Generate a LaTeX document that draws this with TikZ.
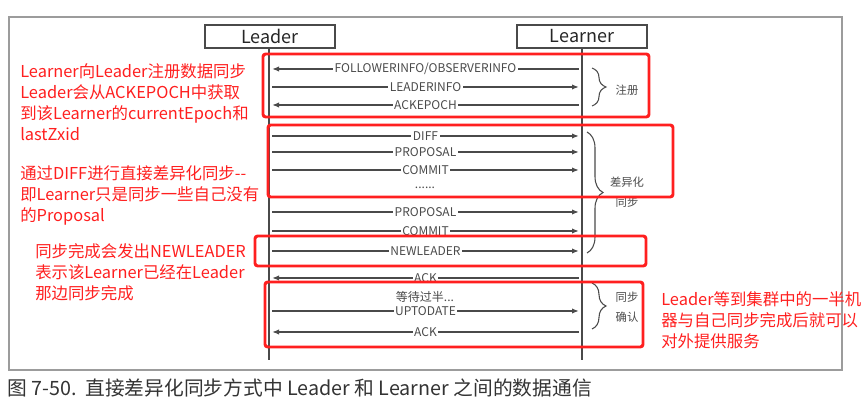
\documentclass[tikz,border=0pt]{standalone}
\usepackage{fontspec}
\setmainfont{Noto Sans CJK SC}
\usetikzlibrary{arrows.meta, positioning, decorations.pathreplacing}
\definecolor{lineGray}{HTML}{4A4A4A}
\definecolor{frameGray}{HTML}{9C9C9C}
\definecolor{noteRed}{HTML}{FF1F1F}

\begin{document}
\begin{tikzpicture}[x=0.75pt, y=-0.75pt, >={Latex[length=5pt,width=4pt]},
  actor/.style={draw=lineGray, line width=1.1pt, fill=white, minimum width=97.5pt, minimum height=17.25pt, inner sep=0pt, font=\fontsize{13.5}{13.5}\selectfont, text=black!85},
  lifeline/.style={draw=lineGray, line width=1pt},
  msg/.style={draw=lineGray, line width=0.8pt, shorten >=2.5pt, shorten <=2.5pt},
  msglabel/.style={fill=white, inner xsep=1.2pt, inner ysep=0.5pt, font=\fontsize{9}{9}\selectfont, text=lineGray},
  phasebrace/.style={draw=lineGray, line width=0.8pt, decorate, decoration={brace, amplitude=#1}},
  phaselabel/.style={align=center, inner sep=0pt, font=\fontsize{8.5}{15}\selectfont, text=lineGray},
  redbox/.style={draw=noteRed, line width=2.2pt, rounded corners=2pt},
  notetext/.style={anchor=north west, align=left, inner sep=0pt, text=noteRed, font=\fontsize{12.3}{15.75}\selectfont}]
\useasboundingbox (0,0) rectangle (865,416);
\draw[frameGray, line width=0.9pt] (9,17) rectangle (842,370);

% participants
\node[actor] (leader) at (270,36.5) {Leader};
\node[actor] (learner) at (582,36.5) {Learner};
\coordinate (leaderEnd) at (269,360);
\coordinate (learnerEnd) at (582,360);
\draw[lifeline] (leader.south -| leaderEnd) -- (leaderEnd);
\draw[lifeline] (learner.south) -- (learnerEnd);

% message rows
\coordinate (ld1) at (269,69);  \coordinate (ln1) at (582,69);
\coordinate (ld2) at (269,87);  \coordinate (ln2) at (582,87);
\coordinate (ld3) at (269,105); \coordinate (ln3) at (582,105);
\coordinate (ld4) at (269,136); \coordinate (ln4) at (582,136);
\coordinate (ld5) at (269,152); \coordinate (ln5) at (582,152);
\coordinate (ld6) at (269,170); \coordinate (ln6) at (582,170);
\coordinate (ld7) at (269,212); \coordinate (ln7) at (582,212);
\coordinate (ld8) at (269,231); \coordinate (ln8) at (582,231);
\coordinate (ld9) at (269,251); \coordinate (ln9) at (582,251);
\coordinate (ld10) at (269,278); \coordinate (ln10) at (582,278);
\coordinate (ld11) at (269,311); \coordinate (ln11) at (582,311);
\coordinate (ld12) at (269,332); \coordinate (ln12) at (582,332);

\draw[msg,->] (ln1) -- node[msglabel] {FOLLOWERINFO/OBSERVERINFO} (ld1);
\draw[msg,->] (ld2) -- node[msglabel] {LEADERINFO} (ln2);
\draw[msg,->] (ln3) -- node[msglabel] {ACKEPOCH} (ld3);
\draw[msg,->] (ld4) -- node[msglabel] {DIFF} (ln4);
\draw[msg,->] (ld5) -- node[msglabel] {PROPOSAL} (ln5);
\draw[msg,->] (ld6) -- node[msglabel] {COMMIT} (ln6);
\node[msglabel] (gap) at (425,188) {......};
\draw[msg,->] (ld7) -- node[msglabel] {PROPOSAL} (ln7);
\draw[msg,->] (ld8) -- node[msglabel] {COMMIT} (ln8);
\draw[msg,->] (ld9) -- node[msglabel] {NEWLEADER} (ln9);
\draw[msg,->] (ln10) -- node[msglabel] {ACK} (ld10);
\node[msglabel] (wait) at (425,297) {等待过半...};
\draw[msg,->] (ld11) -- node[msglabel] {UPTODATE} (ln11);
\draw[msg,->] (ln12) -- node[msglabel] {ACK} (ld12);

% phases
\draw[phasebrace=10.5pt] (592,68) -- (592,106);
\node[phaselabel] (reg) at (627,90) {注册};
\draw[phasebrace=12pt] (587,132) -- (587,253);
\node[phaselabel] (diffsync) at (627,192) {差异化\\同步};
\draw[phasebrace=10.5pt] (592,283) -- (592,329);
\node[phaselabel] (confirm) at (627,307) {同步\\确认};

% annotations
\draw[redbox] (263,54) rectangle (649,117);
\draw[redbox] (268,125) rectangle (673,197);
\draw[redbox] (255,236) rectangle (646,266);
\draw[redbox] (265,282) rectangle (643,347);
\node[notetext] (noteReg) at (20,63) {Learner向Leader注册数据同步\\Leader会从ACKEPOCH中获取\\到该Learner的currentEpoch和\\lastZxid};
\node[notetext] (noteDiff) at (20,165) {通过DIFF进行直接差异化同步-{}-\\即Learner只是同步一些自己没有\\的Proposal};
\node[notetext] (noteNew) at (35,243) {同步完成会发出NEWLEADER\\表示该Learner已经在Leader\\那边同步完成};
\node[notetext] (noteUp) at (661,291) {Leader等到集群中的一半机\\器与自己同步完成后就可以\\对外提供服务};

% caption
\node[anchor=west, inner sep=0pt, text=black!80, font=\fontsize{14.8}{16}\selectfont] (caption) at (7,388) {图 7-50.\ \ 直接差异化同步方式中 Leader 和 Learner 之间的数据通信};
\end{tikzpicture}
\end{document}
